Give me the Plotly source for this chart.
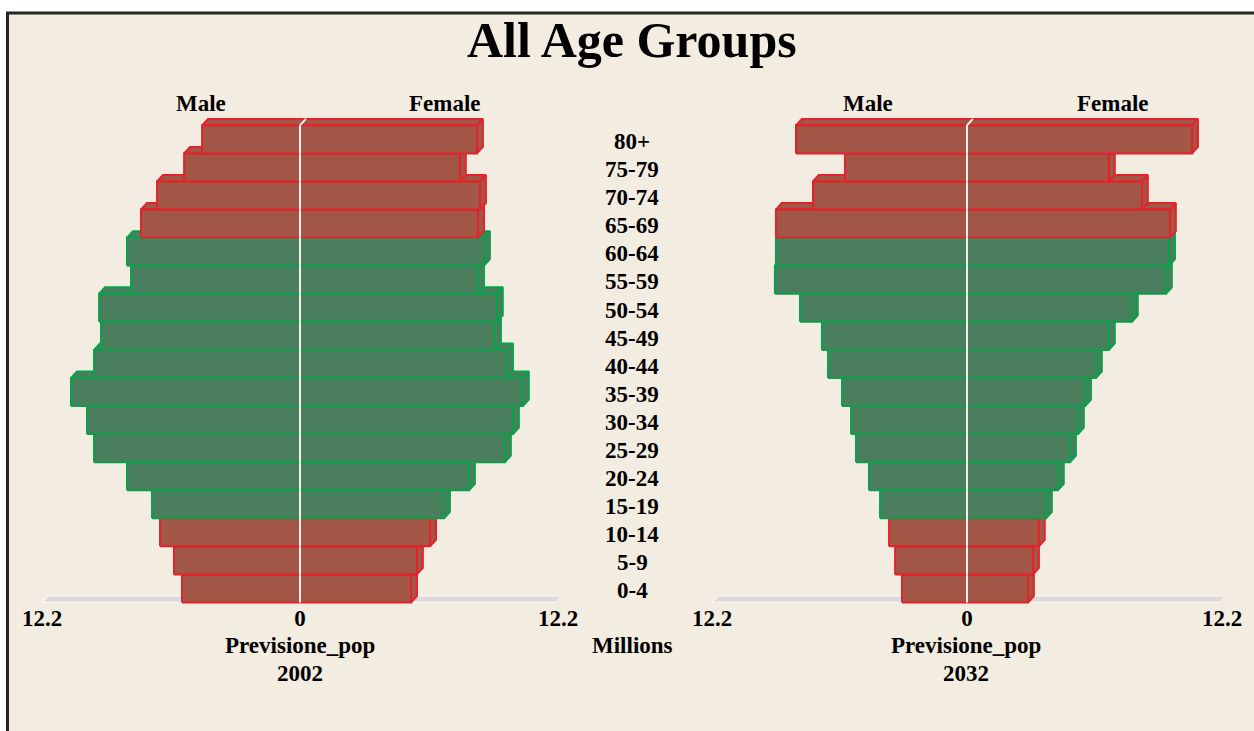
import plotly.graph_objects as go

# ---------------- data ----------------
age_groups = ["0-4", "5-9", "10-14", "15-19", "20-24", "25-29", "30-34", "35-39",
              "40-44", "45-49", "50-54", "55-59", "60-64", "65-69", "70-74", "75-79", "80+"]
working_age_groups = ["15-19", "20-24", "25-29", "30-34", "35-39",
                      "40-44", "45-49", "50-54", "55-59", "60-64"]

male_2002 = [5.58, 5.96, 6.62, 7.00, 8.18, 9.74, 10.07, 10.83, 9.74,
             9.41, 9.50, 7.99, 8.18, 7.52, 6.76, 5.48, 4.63]
female_2002 = [5.25, 5.53, 6.15, 6.81, 7.99, 9.69, 10.07, 10.54, 9.79,
               9.22, 9.31, 8.42, 8.70, 8.42, 8.51, 7.56, 8.37]
male_2032 = [3.11, 3.44, 3.73, 4.16, 4.69, 5.31, 5.55, 5.98, 6.65,
             6.94, 7.99, 9.19, 9.14, 9.14, 7.37, 5.84, 8.18]
female_2032 = [2.92, 3.16, 3.44, 3.78, 4.35, 4.93, 5.31, 5.65, 6.17,
               6.79, 7.89, 9.52, 9.67, 9.71, 8.37, 6.79, 10.77]

panel_years = ["2002", "2032"]
axis_max = 12.2
tick_vals = [-12.2, 0, 12.2]
tick_text = ["12.2", "0", "12.2"]

# ---------------- style ----------------
W, H = 1254, 731
BG = "#F3ECE1"
FONT = "Liberation Serif, Times New Roman, serif"
BROWN_FILL, BROWN_LINE = "#A15646", "#E5222B"
GREEN_FILL, GREEN_LINE = "#4A7E5C", "#0AA04C"
DX, DY = 0.28, 0.23   # 3D depth (x in millions, y in category units)
TXT = 23


def px(x):
    return x / W


def py(y):
    return 1 - y / H


fig = go.Figure()

panels = [(male_2002, female_2002, "x", "y"), (male_2032, female_2032, "x2", "y2")]

for males, females, xa, ya in panels:
    # floor
    b = -0.5
    fig.add_trace(go.Scatter(
        x=[-axis_max, axis_max, axis_max + DX, -axis_max + DX, -axis_max],
        y=[b, b, b + DY, b + DY, b],
        mode="lines", fill="toself", fillcolor="#DEDAD9",
        line=dict(color="#FBF8F6", width=1.2), xaxis=xa, yaxis=ya,
        hoverinfo="skip", showlegend=False))
    for i, grp in enumerate(age_groups):
        L, R = -males[i], females[i]
        b, t = i - 0.5, i + 0.5
        green = grp in working_age_groups
        xs = [L, L + DX, R + DX, R, L, None,
              R, R + DX, R + DX, R, R, None,
              L, R, R, L, L]
        ys = [t, t + DY, t + DY, t, t, None,
              b, b + DY, t + DY, t, b, None,
              b, b, t, t, b]
        fig.add_trace(go.Scatter(
            x=xs, y=ys, mode="lines", fill="toself",
            fillcolor=GREEN_FILL if green else BROWN_FILL,
            line=dict(color=GREEN_LINE if green else BROWN_LINE, width=2),
            xaxis=xa, yaxis=ya, hoverinfo="skip", showlegend=False))
    # centre line
    top = len(age_groups) - 0.5
    fig.add_trace(go.Scatter(
        x=[0, 0, DX], y=[-0.5, top, top + DY], mode="lines",
        line=dict(color="#F6EEEE", width=2), xaxis=xa, yaxis=ya,
        hoverinfo="skip", showlegend=False))

x_common = dict(range=[-axis_max, axis_max], tickvals=tick_vals, ticktext=tick_text,
                showgrid=False, zeroline=False, showline=False, ticks="",
                tickfont=dict(family=FONT, size=TXT, color="black", weight="bold"),
                fixedrange=True, automargin=False, anchor="free", position=py(602))
y_common = dict(range=[-0.6, 17.0], domain=[0.1720, 0.8477], visible=False,
                showgrid=False, zeroline=False, fixedrange=True, automargin=False)

fig.update_layout(
    width=W, height=H, autosize=False,
    margin=dict(l=0, r=0, t=0, b=0, pad=0, autoexpand=False),
    paper_bgcolor="white", plot_bgcolor="rgba(0,0,0,0)",
    xaxis=dict(domain=[px(42), px(558)], **x_common),
    xaxis2=dict(domain=[px(712), px(1222)], **x_common),
    yaxis=dict(anchor="x", **y_common),
    yaxis2=dict(anchor="x2", **y_common),
    font=dict(family=FONT, color="black"),
)

# background frame
fig.add_shape(type="rect", xref="paper", yref="paper",
              x0=px(7.5), x1=1.02, y0=-0.02, y1=py(13),
              fillcolor=BG, line=dict(color="#262626", width=3), layer="below")

ann = []


def label(text, x, y, size=TXT):
    ann.append(dict(text=text, x=px(x), y=py(y), xref="paper", yref="paper",
                    showarrow=False, xanchor="center", yanchor="middle",
                    font=dict(family=FONT, size=size, color="black", weight="bold")))


label("All Age Groups", 632, 40, size=50)
for cx_m, cx_f in [(201, 445), (868, 1113)]:
    label("Male", cx_m, 103)
    label("Female", cx_f, 103)
for cx, yr in zip([300, 966], panel_years):
    label("Previsione_pop", cx, 645)
    label(yr, cx, 673)
label("Millions", 632, 645)

for i, grp in enumerate(age_groups):
    ann.append(dict(text=grp, x=px(632), y=i - 0.08, xref="paper", yref="y",
                    showarrow=False, xanchor="center", yanchor="middle",
                    font=dict(family=FONT, size=TXT, color="black", weight="bold")))

fig.update_layout(annotations=ann)

fig.write_html("out.html", config={"displayModeBar": False},
               post_script="document.body.style.margin='0';document.body.style.overflow='hidden';")
